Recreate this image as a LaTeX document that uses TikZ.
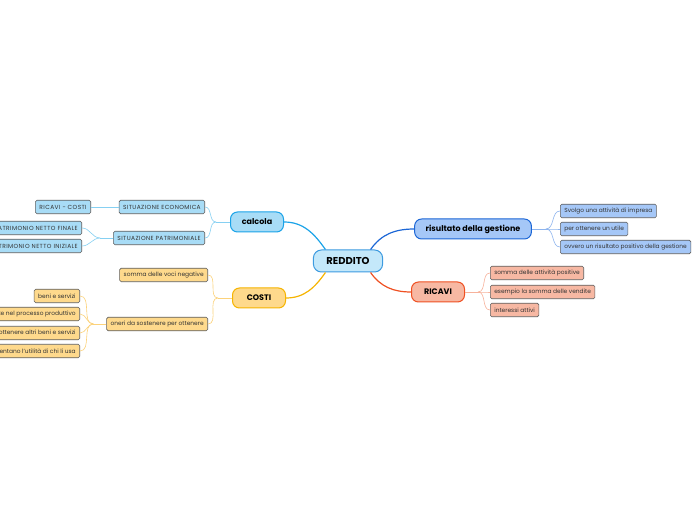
\documentclass[tikz,border=0pt]{standalone}
\usepackage{fontspec}
\setmainfont{Poppins}
\usepackage{tikz}
\usetikzlibrary{positioning}
\definecolor{rootfill}{HTML}{C4E8FA}
\definecolor{rootline}{HTML}{3D9BE0}
\definecolor{calfill}{HTML}{A8DCF6}
\definecolor{calline}{HTML}{1AA3E8}
\definecolor{caltwig}{HTML}{86D0F2}
\definecolor{cosfill}{HTML}{FED98C}
\definecolor{cosline}{HTML}{F6B400}
\definecolor{costwig}{HTML}{FCD27A}
\definecolor{risfill}{HTML}{A5C7F7}
\definecolor{risline}{HTML}{1B66D6}
\definecolor{ristwig}{HTML}{8DB4EE}
\definecolor{ricfill}{HTML}{F7B8A3}
\definecolor{ricline}{HTML}{EF5022}
\definecolor{rictwig}{HTML}{F7B29B}
\definecolor{leafline}{HTML}{5F5F5F}

\begin{document}
\begin{tikzpicture}[x=1pt, y=1pt,
          every node/.style={font=\fontsize{5.9}{6}\selectfont},
          root/.style={draw=rootline, fill=rootfill, rounded corners=8pt,
                       line width=1pt, minimum height=22pt, inner xsep=13pt,
                       font=\fontsize{10}{11}\selectfont\bfseries},
          branch/.style={rounded corners=7pt, line width=1pt,
                         minimum height=20pt, minimum width=53pt, inner xsep=11pt,
                         font=\fontsize{8}{9}\selectfont\bfseries},
          leaf/.style={draw=leafline, rounded corners=1.5pt, line width=0.6pt,
                       minimum height=13.5pt, inner xsep=4pt, inner ysep=0pt,
                       text=black!80},
          caps/.style={font=\fontsize{5.9}{6}\selectfont\addfontfeatures{LetterSpace=7}},
          link/.style={line width=1.2pt},
          twig/.style={line width=0.6pt}
      ]
        \clip (0,0) rectangle (696,520);
        \fill[white] (0,0) rectangle (696,520);

        % centre and main branches
        \node[root] (reddito) at (348,259) {REDDITO};
        \node[branch, draw=calline, fill=calfill] (calcola) at (257,298) {calcola};
        \node[branch, draw=cosline, fill=cosfill] (costi) at (259,222) {COSTI};
        \node[branch, draw=risline, fill=risfill] (risultato) at (473,291) {risultato della gestione};
        \node[branch, draw=ricline, fill=ricfill] (ricavi) at (438,228) {RICAVI};

        \draw[link, calline] (reddito.153) to[out=125, in=0] (calcola.east);
        \draw[link, cosline] (reddito.207) to[out=235, in=0] (costi.east);
        \draw[link, risline] (reddito.27)  to[out=55, in=180] (risultato.west);
        \draw[link, ricline] (reddito.-27) to[out=-55, in=180] (ricavi.west);

        % calcola
        \node[leaf, caps, fill=calfill, anchor=east] (siteco) at (205,313) {SITUAZIONE ECONOMICA};
        \node[leaf, caps, fill=calfill, anchor=east] (sitpat) at (205,282) {SITUAZIONE PATRIMONIALE};
        \node[leaf, caps, fill=calfill, anchor=east] (ricos) at (91,313) {RICAVI - COSTI};
        \node[leaf, caps, fill=calfill, anchor=east] (pnfin) at (82,292) {PATRIMONIO NETTO FINALE};
        \node[leaf, caps, fill=calfill, anchor=east] (pnini) at (82,274) {PATRIMONIO NETTO INIZIALE};

        \coordinate[left=14pt of calcola] (jcal);
        \coordinate[left=13pt of sitpat] (jpat);
        \draw[twig, caltwig] (calcola.west) -- (jcal);
        \draw[twig, caltwig] (jcal) to[out=180, in=0] (siteco.east);
        \draw[twig, caltwig] (jcal) to[out=180, in=0] (sitpat.east);
        \draw[twig, caltwig] (siteco.west) -- (ricos.east);
        \draw[twig, caltwig] (sitpat.west) -- (jpat);
        \draw[twig, caltwig] (jpat) to[out=180, in=0] (pnfin.east);
        \draw[twig, caltwig] (jpat) to[out=180, in=0] (pnini.east);

        % costi
        \node[leaf, fill=cosfill, anchor=east] (vocneg) at (208,245) {somma delle voci negative};
        \node[leaf, fill=cosfill, anchor=east] (oneri) at (208,196) {oneri da sostenere per ottenere};
        \node[leaf, fill=cosfill, anchor=east] (beni) at (80,224) {beni e servizi};
        \node[leaf, fill=cosfill, anchor=east] (risorse) at (80,206) {risorse impiegate nel processo produttivo};
        \node[leaf, fill=cosfill, anchor=east] (altri) at (80,187) {per ottenere altri beni e servizi};
        \node[leaf, fill=cosfill, anchor=east] (utilita) at (80,169) {che aumentano l'utilità di chi li usa};

        \coordinate[left=14pt of costi] (jcos);
        \coordinate[left=13pt of oneri] (jone);
        \draw[twig, costwig] (costi.west) -- (jcos);
        \draw[twig, costwig] (jcos) to[out=180, in=0] (vocneg.east);
        \draw[twig, costwig] (jcos) to[out=180, in=0] (oneri.east);
        \draw[twig, costwig] (oneri.west) -- (jone);
        \foreach \n in {beni, risorse, altri, utilita}
          \draw[twig, costwig] (jone) to[out=180, in=0] (\n.east);

        % risultato della gestione
        \node[leaf, fill=risfill, anchor=west] (svolgo) at (560,309) {Svolgo una attività di impresa};
        \node[leaf, fill=risfill, anchor=west] (utile) at (560,291) {per ottenere un utile};
        \node[leaf, fill=risfill, anchor=west] (ovvero) at (560,273) {ovvero un risultato positivo della gestione};

        \coordinate[right=14pt of risultato] (jris);
        \draw[twig, ristwig] (risultato.east) -- (jris);
        \foreach \n in {svolgo, utile, ovvero}
          \draw[twig, ristwig] (jris) to[out=0, in=180] (\n.west);

        % ricavi
        \node[leaf, fill=ricfill, anchor=west] (attpos) at (490,247) {somma delle attività positive};
        \node[leaf, fill=ricfill, anchor=west] (vendite) at (490,228) {esempio la somma delle vendite};
        \node[leaf, fill=ricfill, anchor=west] (interessi) at (490,210) {interessi attivi};

        \coordinate[right=13pt of ricavi] (jric);
        \draw[twig, rictwig] (ricavi.east) -- (jric);
        \foreach \n in {attpos, vendite, interessi}
          \draw[twig, rictwig] (jric) to[out=0, in=180] (\n.west);
      \end{tikzpicture}
\end{document}
